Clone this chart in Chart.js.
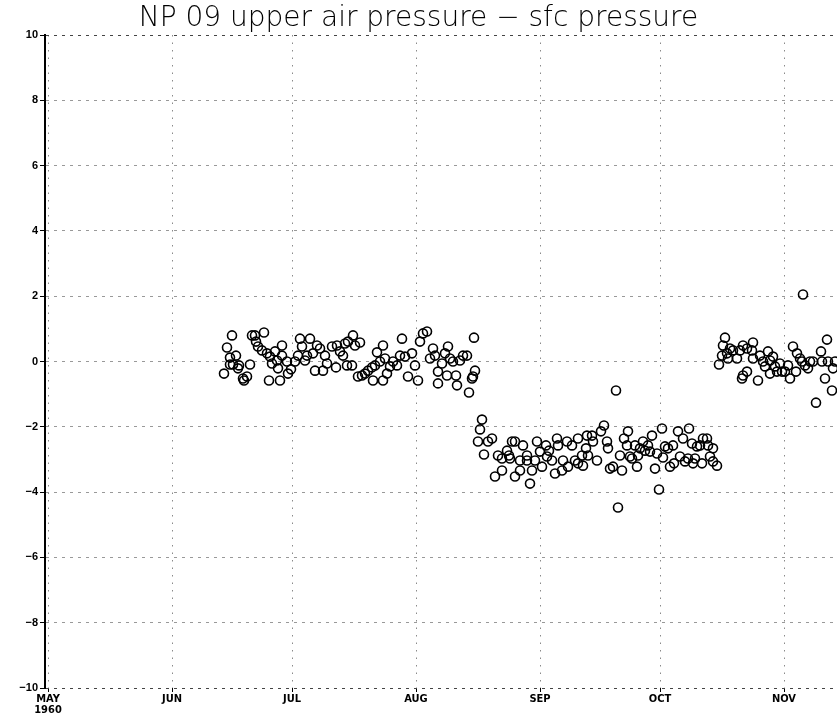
<!DOCTYPE html>
<html>
<head>
<meta charset="utf-8">
<script src="https://cdn.jsdelivr.net/npm/chart.js@4"></script>
<style>
  html, body { margin: 0; padding: 0; background: #fff; overflow: hidden; }
  canvas { display: block; }
</style>
</head>
<body>
<canvas id="myChart" width="837" height="723"></canvas>
<script>
// Month starts, as days since 1 May 1960
const monthDays = [0, 31, 61, 92, 123, 153, 184];
const monthLabels = [['MAY', '1960'], 'JUN', 'JUL', 'AUG', 'SEP', 'OCT', 'NOV'];

// y axis ticks
const yTicks = [-10, -8, -6, -4, -2, 0, 2, 4, 6, 8, 10];

// Observation time (days since 1 May 1960)
const obsDay = [
  44, 44.75, 45.5, 45.5, 46, 46.25, 47, 47.5, 47.75, 48.75, 49, 49.75, 50.5, 51, 51.75, 52, 52.5, 53.5, 54, 54.75,
  55.25, 55.5, 56, 56.75, 57.25, 57.5, 58, 58.5, 58.5, 59.75, 60, 60.75, 61.75, 62.5, 63, 63.5, 64.25, 64.75, 65.5, 66.25,
  66.75, 67.25, 68, 68.75, 69.25, 69.75, 71, 72, 72.25, 73, 73.75, 74.25, 74.75, 75, 76, 76.25, 76.75, 77.5, 78, 78.5,
  79.25, 80, 81, 81.25, 81.75, 82.25, 83, 83.75, 83.75, 84.25, 84.75, 85.5, 86.25, 87.25, 88, 88.5, 89.25, 90, 91, 91.75,
  92.5, 93, 93.75, 94.75, 95.5, 96.25, 96.75, 97.5, 97.5, 98.5, 99.25, 99.75, 100, 100.5, 101.25, 102, 102.25, 103, 103.75, 104.75,
  105.25, 106, 106.25, 106.5, 106.75,
  107.5, 108, 108.5, 109, 110, 111, 111.75, 112.5, 113.5, 113.5, 114.75, 115.25, 115.5, 116, 116.75, 116.75, 118, 118, 118.75, 119.75,
  119.75, 120.5, 121, 121.75, 122.25, 123, 123.5, 124.5, 124.75, 125.25, 126, 126.75, 127.25, 127.5, 128.5, 128.75, 129.75, 130, 131, 131.75,
  132.5, 132.5, 133.5, 133.75, 134.5, 134.75, 135, 136, 136.25, 137.25, 138.25, 139, 139.75, 140, 140.5, 141.25, 142, 142.5, 143, 143.5,
  144, 144.75, 145, 145.5, 146, 146.75, 147.25, 147.5, 148, 148.75, 149.25, 150, 150.5, 151, 151.75, 152.25, 152.75, 153.5, 153.75, 154.25,
  155, 155.5, 156.25, 156.5, 157.5, 158, 158.75, 159.25, 160, 160.25, 161, 161.25, 161.75, 162.25, 163, 163.5, 163.75, 164.75, 165, 165.5,
  166.25, 166.25, 167.25,
  167.75, 168.5, 168.75, 169.25, 169.75, 170, 170.5, 171.25, 172.25, 173, 173.5, 173.75, 173.75, 174.75, 174.75, 176, 176.25, 176.25, 177.5, 178,
  178.75, 179.25, 180, 180.5, 180.5, 181.25, 181.75, 182.25, 183, 183.5, 184.25, 185, 185.5, 186.25, 187, 187.25, 188, 188.5, 188.75, 189.25,
  190, 190.5, 191.25, 192, 193.25, 193.5, 194.25, 194.75, 195, 196, 196.25, 196.75
];

// Upper air pressure minus surface pressure
const obsDiff = [
  -0.37, 0.43, 0.12, -0.09, 0.8, -0.09, 0.18, -0.21, -0.12, -0.52, -0.58, -0.46, -0.09, 0.8, 0.8, 0.61, 0.46, 0.34, 0.89, 0.25,
  -0.58, 0.15, -0.06, 0.31, 0.03, -0.21, -0.58, 0.49, 0.18, 0, -0.37, -0.24, 0, 0.18, 0.7, 0.46, 0.03, 0.18, 0.7, 0.25,
  -0.28, 0.49, 0.4, -0.28, 0.18, -0.06, 0.46, -0.18, 0.49, 0.31, 0.18, 0.55, -0.12, 0.61, -0.12, 0.8, 0.49, -0.46, 0.58, -0.43,
  -0.37, -0.28, -0.18, -0.58, -0.12, 0.28, 0, 0.49, -0.58, 0.09, -0.37, -0.15, 0, -0.12, 0.18, 0.7, 0.15, -0.46, 0.25, -0.12,
  -0.58, 0.61, 0.86, 0.92, 0.09, 0.4, 0.18, -0.31, -0.67, -0.06, 0.25, -0.43, 0.46, 0.09, 0, -0.43, -0.73, 0.03, 0.18, 0.18,
  -0.95, -0.52, -0.46, 0.73, -0.28,
  -2.45, -2.08, -1.78, -2.85, -2.45, -2.36, -3.52, -2.88, -3.34, -2.97, -2.73, -2.88, -2.97, -2.45, -2.45, -3.52, -3.34, -3.03, -2.57, -2.88,
  -3.03, -3.74, -3.34, -3.03, -2.45, -2.76, -3.22, -2.57, -2.91, -2.73, -3.03, -3.43, -2.36, -2.57, -3.34, -3.03, -2.45, -3.22, -2.57, -3.03,
  -2.36, -3.12, -2.88, -3.19, -2.66, -2.27, -2.88, -2.27, -2.45, -3.03, -2.14, -1.96, -2.45, -2.66, -3.28, -3.22, -0.89, -4.47, -2.88, -3.34,
  -2.36, -2.57, -2.14, -2.91, -2.97, -2.57, -3.22, -2.88, -2.66, -2.45, -2.73, -2.57, -2.76, -2.27, -3.28, -2.82, -3.92, -2.05, -2.94, -2.6,
  -2.66, -3.22, -2.57, -3.12, -2.14, -2.91, -2.36, -3.06, -2.97, -2.05, -2.51, -3.12, -2.97, -2.6, -2.57, -3.12, -2.36, -2.36, -2.57, -2.91,
  -2.66, -3.06, -3.19,
  -0.09, 0.18, 0.49, 0.73, 0.25, 0.09, 0.4, 0.34, 0.09, 0.34, -0.52, 0.49, -0.43, 0.4, -0.31, 0.34, 0.58, 0.09, -0.58, 0.18,
  0, -0.15, 0.31, 0.03, -0.37, 0.15, -0.15, -0.31, -0.06, -0.31, -0.31, -0.12, -0.52, 0.46, -0.31, 0.25, 0.09, 0, 2.05, -0.12,
  -0.21, 0, 0, -1.26, 0.31, 0, -0.52, 0.67, 0, -0.89, -0.21, 0
];

const points = obsDay.map((d, i) => ({ x: d, y: obsDiff[i] }));

const ctx = document.getElementById('myChart').getContext('2d');

new Chart(ctx, {
  type: 'scatter',
  data: {
    datasets: [{
      data: points,
      pointStyle: 'circle',
      pointRadius: 4.5,
      pointBorderWidth: 1.6,
      pointBorderColor: '#000',
      pointBackgroundColor: 'rgba(0,0,0,0)',
      showLine: false
    }]
  },
  options: {
    responsive: false,
    animation: false,
    devicePixelRatio: 1,
    layout: { padding: 0, autoPadding: false },
    plugins: {
      legend: { display: false },
      tooltip: { enabled: false },
      title: {
        display: true,
        text: 'NP 09 upper air pressure \u2212 sfc pressure',
        color: '#000',
        font: { family: "'DejaVu Sans', sans-serif", size: 28, weight: 200, lineHeight: 1.05 },
        padding: { top: 4, bottom: 1.6 }
      }
    },
    scales: {
      x: {
        type: 'linear',
        min: -0.75,
        max: 197.25,
        afterBuildTicks: (scale) => { scale.ticks = monthDays.map(v => ({ value: v })); },
        afterFit: (scale) => { scale.height = 35; },
        ticks: {
          autoSkip: false,
          maxRotation: 0,
          padding: 1,
          color: '#000',
          font: { family: "'Liberation Sans Narrow', 'DejaVu Sans Condensed', sans-serif", size: 11, weight: 'bold', lineHeight: 1.05 },
          callback: (value) => monthLabels[monthDays.indexOf(value)]
        },
        grid: {
          color: '#8a8a8a',
          lineWidth: 1,
          tickLength: 4,
          tickColor: '#000',
          tickBorderDash: []
        },
        border: { display: false, dash: [1.5, 6] }
      },
      y: {
        min: -10,
        max: 10,
        afterBuildTicks: (scale) => { scale.ticks = yTicks.map(v => ({ value: v })); },
        afterFit: (scale) => { scale.width = 45; },
        ticks: {
          padding: 2,
          color: '#000',
          font: { family: "'Liberation Sans', sans-serif", size: 11, weight: 'bold' },
          callback: (value) => (value < 0 ? '\u2212' + Math.abs(value) : String(value))
        },
        grid: {
          color: (c) => (c.tick && Math.abs(c.tick.value) === 10 ? '#444' : '#999'),
          lineWidth: 1,
          tickLength: 5,
          tickColor: '#000',
          tickBorderDash: []
        },
        border: { display: true, color: '#000', width: 2, dash: [3, 5] }
      }
    }
  }
});
</script>
</body>
</html>
